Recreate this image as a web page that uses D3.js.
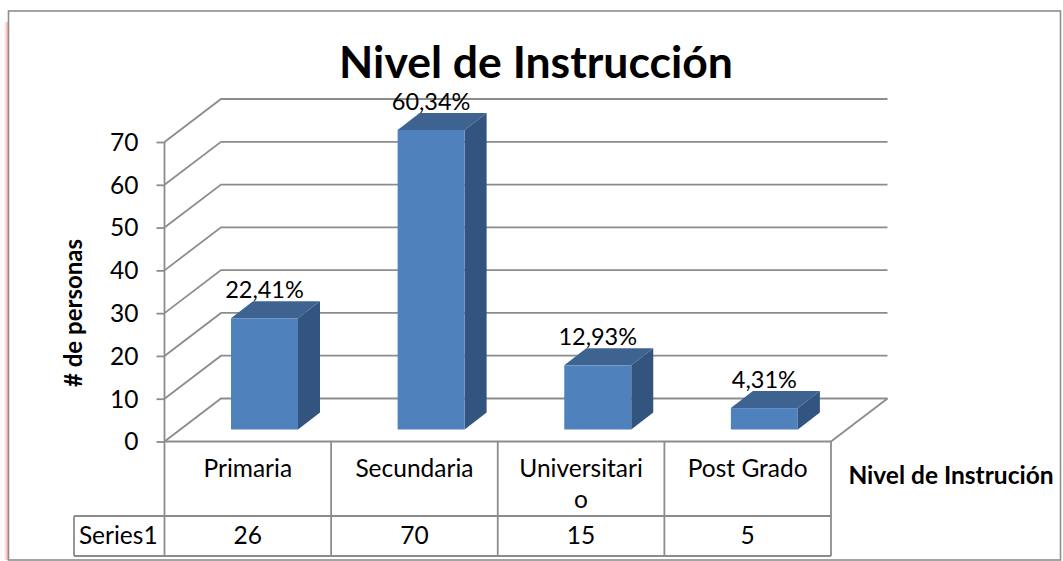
<!DOCTYPE html>
<html><head><meta charset="utf-8">
<script src="https://cdn.jsdelivr.net/npm/d3@7"></script>
<style>html,body{margin:0;padding:0;background:#fff;overflow:hidden}text{font-family:Lato,"Open Sans",sans-serif;fill:#000}</style>
</head><body><div id="c"></div>
<script>
const categories=["Primaria","Secundaria","Universitario","Post Grado"];
const categoryLines=[["Primaria"],["Secundaria"],["Universitari","o"],["Post Grado"]];
const values=[26,70,15,5];
const percentLabels=["22,41%","60,34%","12,93%","4,31%"];
const yTicks=[0,10,20,30,40,50,60,70];
const seriesName="Series1";
const titleText="Nivel de Instrucción";
const yTitle="# de personas";
const xTitle="Nivel de Instrución";

const W=1063,H=561;
const svg=d3.select("#c").append("svg").attr("width",W).attr("height",H).style("display","block");
const gridC="#8c8c8c";
const left=164.5,right=831,y0=441.5,y70=142,dx=56.5,dy=-43;
const x=d3.scaleBand().domain(categories).range([left,right]);
const y=d3.scaleLinear().domain([0,70]).range([y0,y70]);
const fs=24.5;

// frame with soft pink edge
const defs=svg.append("defs");
const grad=defs.append("linearGradient").attr("id","pink");
grad.append("stop").attr("offset",0).attr("stop-color","#ffffff");
grad.append("stop").attr("offset",1).attr("stop-color","#ff9e9e");
svg.append("rect").attr("x",4).attr("y",22).attr("width",4.5).attr("height",538).attr("fill","url(#pink)");
svg.append("rect").attr("x",8.5).attr("y",11).attr("width",1052).attr("height",549).attr("fill","#fff").attr("stroke","#8e8e8e").attr("stroke-width",1.6);

// gridlines: side wall and back wall
yTicks.forEach(t=>{
  const yy=y(t);
  svg.append("path").attr("fill","none").attr("stroke",gridC).attr("stroke-width",1.8)
    .attr("d",d3.line()([[left,yy],[left+dx,yy+dy],[right+dx,yy+dy]]));
});
svg.append("path").attr("fill","none").attr("stroke",gridC).attr("stroke-width",1.8)
  .attr("d",d3.line()([[right+dx,y0+dy],[right,y0]]));
svg.append("line").attr("x1",left).attr("x2",left).attr("y1",y70).attr("y2",y0).attr("stroke",gridC).attr("stroke-width",1.8);
const yAxis=d3.axisLeft(y).tickValues(yTicks).tickSize(8).tickPadding(18).tickFormat(d3.format("d"));
const ga=svg.append("g").attr("transform",`translate(${left},0)`).call(yAxis);
ga.select(".domain").remove();
ga.selectAll("line").attr("stroke",gridC).attr("stroke-width",1.8);
ga.selectAll("text").attr("font-size",fs).style("font-family","Lato").attr("dy","0.34em").attr("y",0);

// bars
const barW=67,barInset=66.5,barDx=22,barDy=-17,baseLift=12;
categories.forEach((c,i)=>{
  const xL=x(c)+barInset;
  const xR=xL+barW, b=y(0)-baseLift, t=y(values[i])-baseLift;
  const g=svg.append("g");
  g.append("path").attr("fill","#33547e").attr("d",d3.line()([[xR,b],[xR+barDx,b+barDy],[xR+barDx,t+barDy],[xR,t]]));
  g.append("path").attr("fill","#3e6391").attr("d",d3.line()([[xL,t],[xL+barDx,t+barDy],[xR+barDx,t+barDy],[xR,t]]));
  g.append("rect").attr("x",xL).attr("y",t).attr("width",barW).attr("height",b-t).attr("fill","#4f81bd");
  svg.append("text").attr("x",xL+barW/2).attr("y",t+barDy-3).attr("text-anchor","middle").attr("font-size",23.5).text(percentLabels[i]);
});

// data table
const rowTop=y0,rowMid=516,rowBot=556,tblLeft=74;
const tl=[[[left,rowTop],[right,rowTop]],[[tblLeft,rowMid],[right,rowMid]],[[tblLeft,rowBot],[right,rowBot]],[[tblLeft,rowMid],[tblLeft,rowBot]],[[left,rowTop],[left,rowBot]],[[right,rowTop],[right,rowBot]]];
categories.forEach(c=>{ if(x(c)>left) tl.push([[x(c),rowTop],[x(c),rowBot]]); });
svg.append("g").selectAll("path").data(tl).join("path").attr("d",d=>d3.line()(d)).attr("stroke",gridC).attr("stroke-width",1.8).attr("fill","none");
categories.forEach((c,i)=>{
  const cx=x(c)+x.bandwidth()/2;
  categoryLines[i].forEach((ln,j)=>svg.append("text").attr("x",cx).attr("y",477+j*31).attr("text-anchor","middle").attr("font-size",fs).text(ln));
  svg.append("text").attr("x",cx).attr("y",544).attr("text-anchor","middle").attr("font-size",fs).text(values[i]);
});
svg.append("text").attr("x",(tblLeft+left)/2-1).attr("y",544).attr("text-anchor","middle").attr("font-size",fs).text(seriesName);

// titles
svg.append("text").attr("x",536).attr("y",78).attr("text-anchor","middle").attr("font-size",44.5).attr("font-weight",700).text(titleText);
svg.append("text").attr("transform","translate(82,313) rotate(-90)").attr("text-anchor","middle").attr("font-size",24).attr("font-weight",700).text(yTitle);
svg.append("text").attr("x",951).attr("y",484).attr("text-anchor","middle").attr("font-size",24.5).attr("font-weight",700).text(xTitle);
</script></body></html>
